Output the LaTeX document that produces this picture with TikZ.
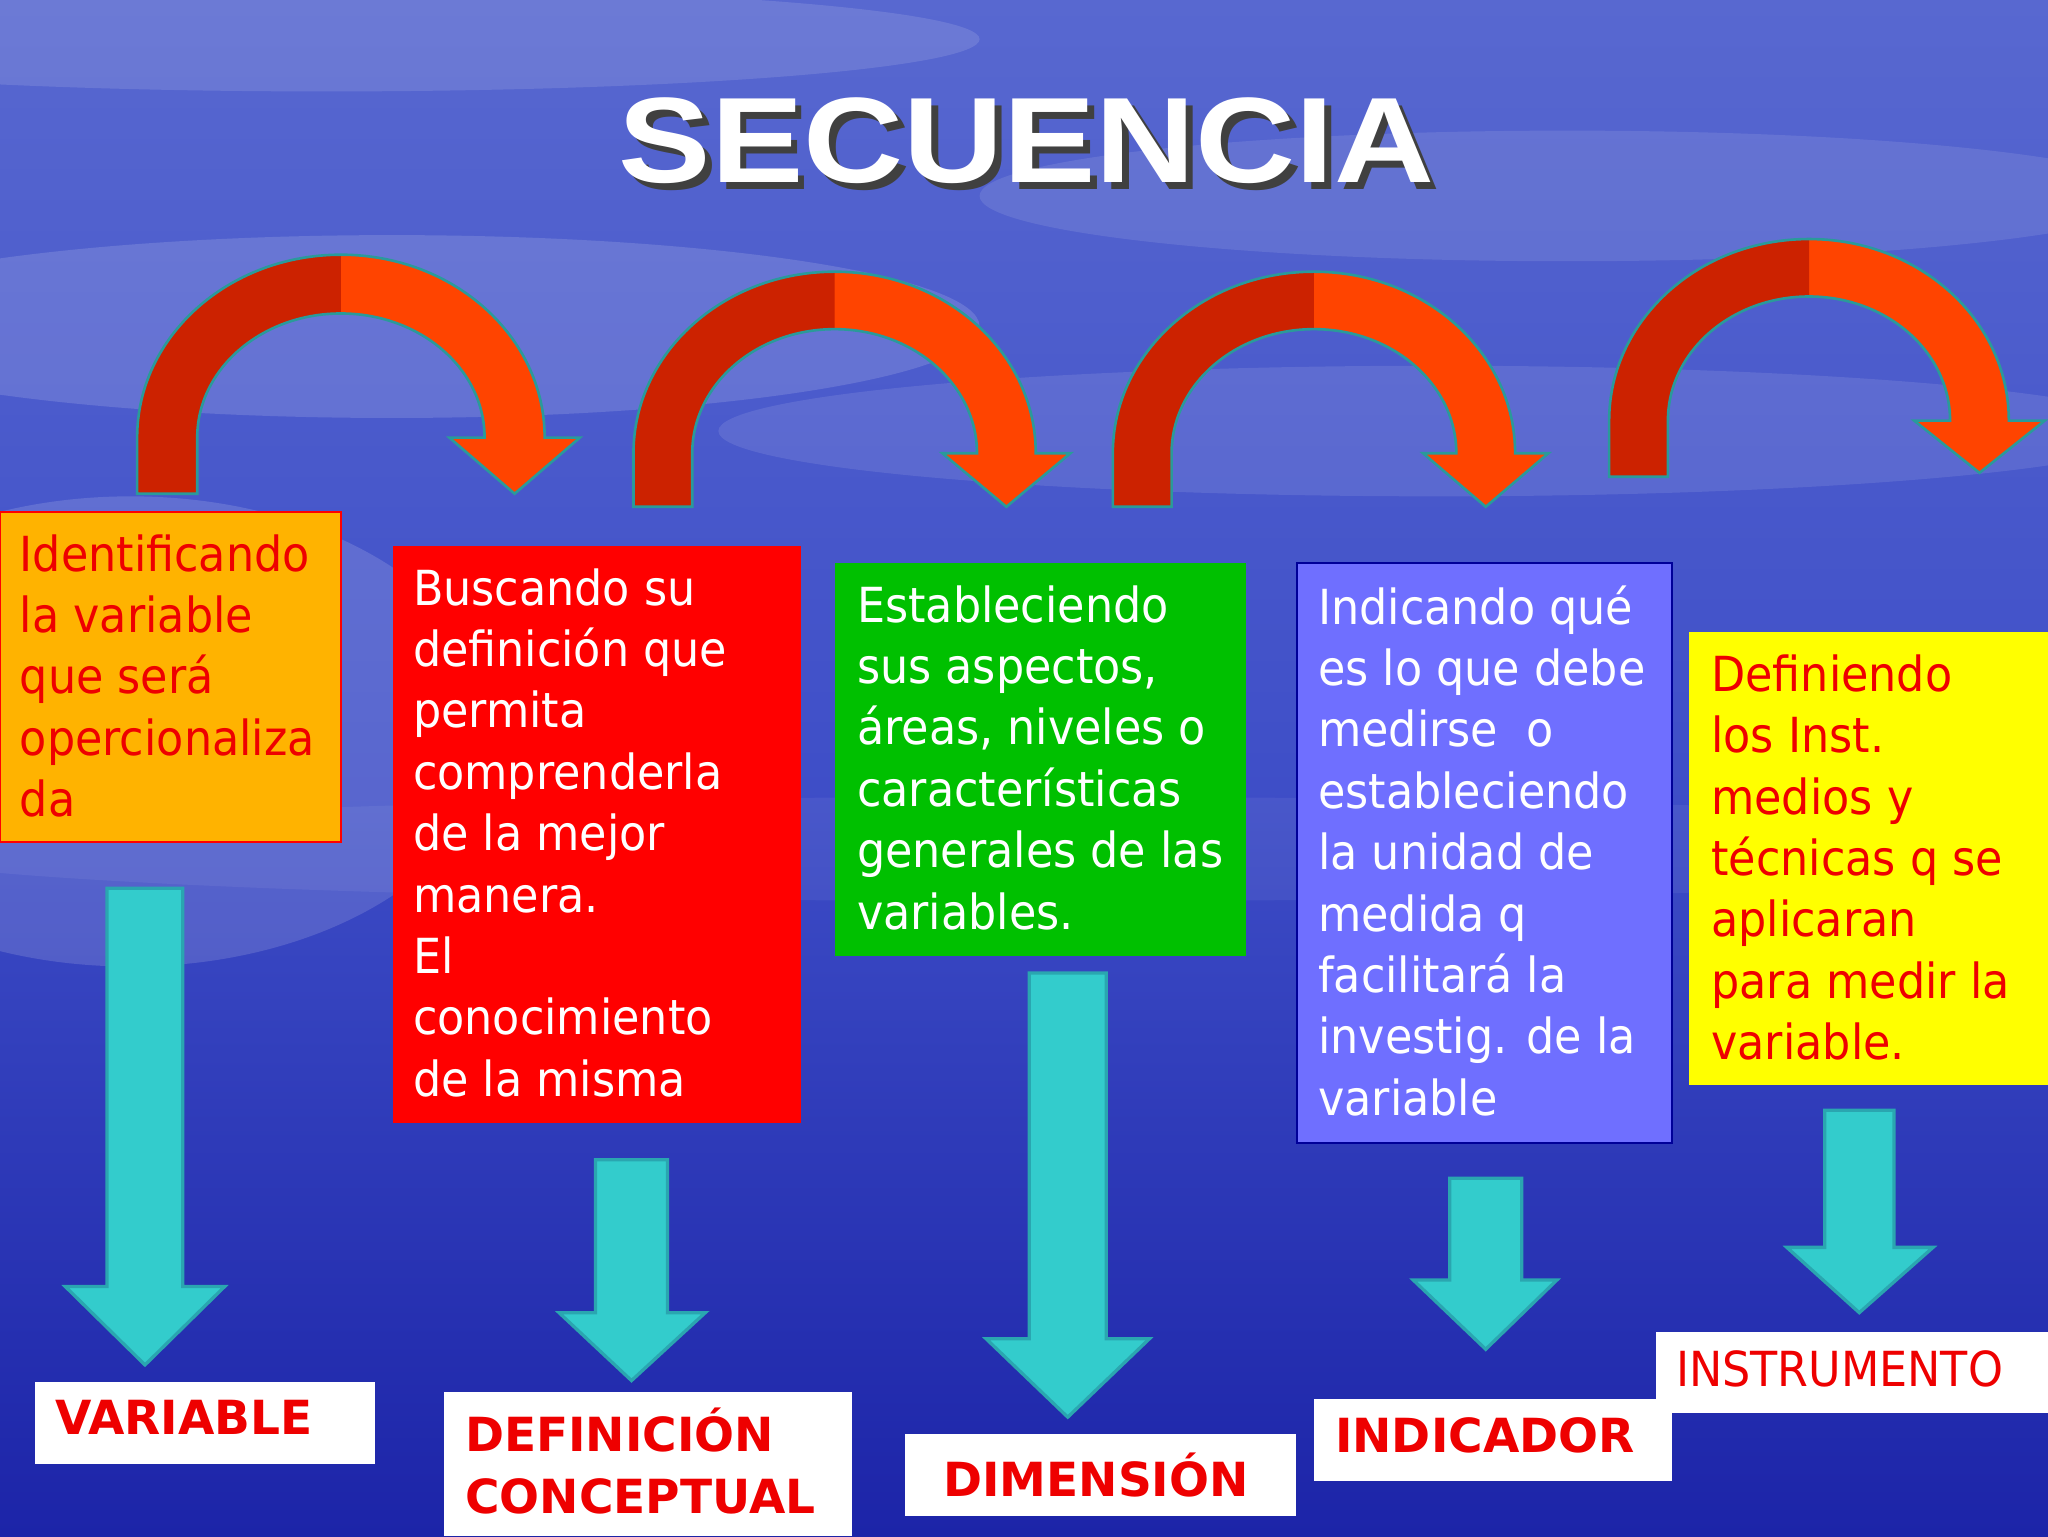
\documentclass[tikz,border=0pt]{standalone}
\usepackage{fontspec}
\setmainfont{DejaVu Sans}[FakeStretch=0.92]
\newfontfamily\titlefont{Liberation Sans Bold}[FakeStretch=1.14]
\newfontfamily\lblfont{DejaVu Sans Bold}[FakeStretch=1.0]
\usetikzlibrary{shadings}
\definecolor{arcdark}{HTML}{CC2200}
\definecolor{arclight}{HTML}{FF4400}
\definecolor{arcedge}{HTML}{2A9A9A}
\definecolor{cyanarr}{HTML}{33CCCC}
\definecolor{cyanedge}{HTML}{2AA6B0}
\definecolor{boxorange}{HTML}{FFB300}
\definecolor{boxred}{HTML}{FF0000}
\definecolor{boxgreen}{HTML}{00C000}
\definecolor{boxblue}{HTML}{6F6FFF}
\definecolor{boxyellow}{HTML}{FFFF00}
\definecolor{txtred}{HTML}{EE0000}
\definecolor{bgtop}{HTML}{5868D0}
\definecolor{bgmid}{HTML}{3F4FC8}
\definecolor{bgbot}{HTML}{1C24A8}
\newcommand\archarr[9]{%
  \path[save path=\archp] ({#1-#2},{-#7}) -- ({#1-#2},{-#4})
    arc[start angle=180,end angle=0,x radius=#2,y radius=#5]
    -- ({#1+(#2+#3)/2+#8},{-#4}) -- ({#1+(#2+#3)/2},{-#9})
    -- ({#1+(#2+#3)/2-#8},{-#4}) -- ({#1+#3},{-#4})
    arc[start angle=0,end angle=180,x radius=#3,y radius=#6]
    -- ({#1-#3},{-#7}) -- cycle;
  \fill[arclight,use path=\archp];
  \begin{scope}\clip ({#1-#2-5},0) rectangle (#1,-500);
    \fill[arcdark,use path=\archp];\end{scope}
  \draw[arcedge,line width=2pt,use path=\archp];}
\newcommand\downarr[7]{%
  \draw[fill=cyanarr,draw=cyanedge,line width=2.5pt]
    (#1,-#3) -- (#2,-#3) -- (#2,-#4) -- (#6,-#4) -- ({(#1+#2)/2},-#7)
    -- (#5,-#4) -- (#1,-#4) -- cycle;}
\tikzset{
  boxtxt/.style={anchor=north west,inner sep=0pt,align=left,
    font=\fontsize{37}{47}\selectfont},
  lbl/.style={fill=white,text=txtred,font=\lblfont\fontsize{36}{47}\selectfont,
    anchor=north west,inner sep=0pt,align=left}}
\begin{document}
\begin{tikzpicture}[x=1pt,y=1pt]
\useasboundingbox (0,0) rectangle (1568,-1176);
\shade[top color=bgtop,bottom color=bgbot,middle color=bgmid] (0,0) rectangle (1568,-1176);
\fill[white,opacity=0.12] (250,-30) ellipse (500 and 40);
\fill[white,opacity=0.14] (300,-250) ellipse (450 and 70);
\fill[white,opacity=0.10] (1200,-150) ellipse (450 and 50);
\fill[white,opacity=0.10] (1100,-330) ellipse (550 and 50);
\fill[white,opacity=0.14] (100,-560) ellipse (280 and 180);
\fill[white,opacity=0.06] (800,-650) ellipse (900 and 40);
% title
\node[text=black!75,font=\titlefont\fontsize{93}{93}\selectfont] (tsh) at (791,-113) {SECUENCIA};
\node[text=white,font=\titlefont\fontsize{93}{93}\selectfont] (title) at (786,-108) {SECUENCIA};
% arches
\archarr{261}{156}{110}{335}{140}{95}{378}{50}{378}
\archarr{639}{154}{109}{347}{139}{95}{388}{49}{388}
\archarr{1006}{154}{109}{347}{139}{95}{388}{48}{388}
\archarr{1385}{153}{108}{322}{139}{95}{365}{50}{362}
% boxes
\draw[fill=boxorange,draw=red,line width=1.5pt] (0,-392) rectangle (261,-645);
\fill[boxred] (301,-418) rectangle (613,-860);
\fill[boxgreen] (639,-431) rectangle (954,-732);
\draw[fill=boxblue,draw=blue!60!black,line width=1.5pt] (993,-431) rectangle (1280,-875);
\fill[boxyellow] (1293,-484) rectangle (1568,-831);
\node[boxtxt,text=txtred] (t1) at (15,-409) {Identificando\\la variable\\que será\\opercionaliza\\da};
\node[boxtxt,text=white] (t2) at (316,-435) {Buscando su\\definición que\\permita\\comprenderla\\de la mejor\\manera.\\El\\conocimiento\\de la misma};
\node[boxtxt,text=white] (t3) at (656,-448) {Estableciendo\\sus aspectos,\\áreas, niveles o\\características\\generales de las\\variables.};
\node[boxtxt,text=white] (t4) at (1009,-448) {Indicando qué\\es lo que debe\\medirse\ \ o\\estableciendo\\la unidad de\\medida q\\facilitará la\\investig. de la\\variable};
\node[boxtxt,text=txtred] (t5) at (1310,-501) {Definiendo\\los Inst.\\medios y\\técnicas q se\\aplicaran\\para medir la\\variable.};
% down arrows
\downarr{82}{140}{680}{985}{50}{172}{1045}
\downarr{456}{511}{888}{1005}{428}{540}{1057}
\downarr{788}{847}{745}{1025}{755}{880}{1085}
\downarr{1110}{1165}{902}{980}{1082}{1192}{1033}
\downarr{1397}{1450}{850}{955}{1368}{1480}{1005}
% labels
\fill[white] (27,-1058) rectangle (287,-1121);
\node[lbl] (l1) at (42,-1072) {VARIABLE};
\fill[white] (340,-1066) rectangle (652,-1176);
\node[lbl] (l2) at (356,-1078) {DEFINICIÓN\\CONCEPTUAL};
\fill[white] (693,-1098) rectangle (992,-1161);
\node[lbl] (l3) at (722,-1112) {DIMENSIÓN};
\fill[white] (1006,-1071) rectangle (1280,-1134);
\node[lbl] (l4) at (1022,-1085) {INDICADOR};
\fill[white] (1268,-1020) rectangle (1568,-1082);
\node[lbl,font=\fontsize{37}{47}\selectfont] (l5) at (1283,-1034) {INSTRUMENTO};
\end{tikzpicture}
\end{document}
